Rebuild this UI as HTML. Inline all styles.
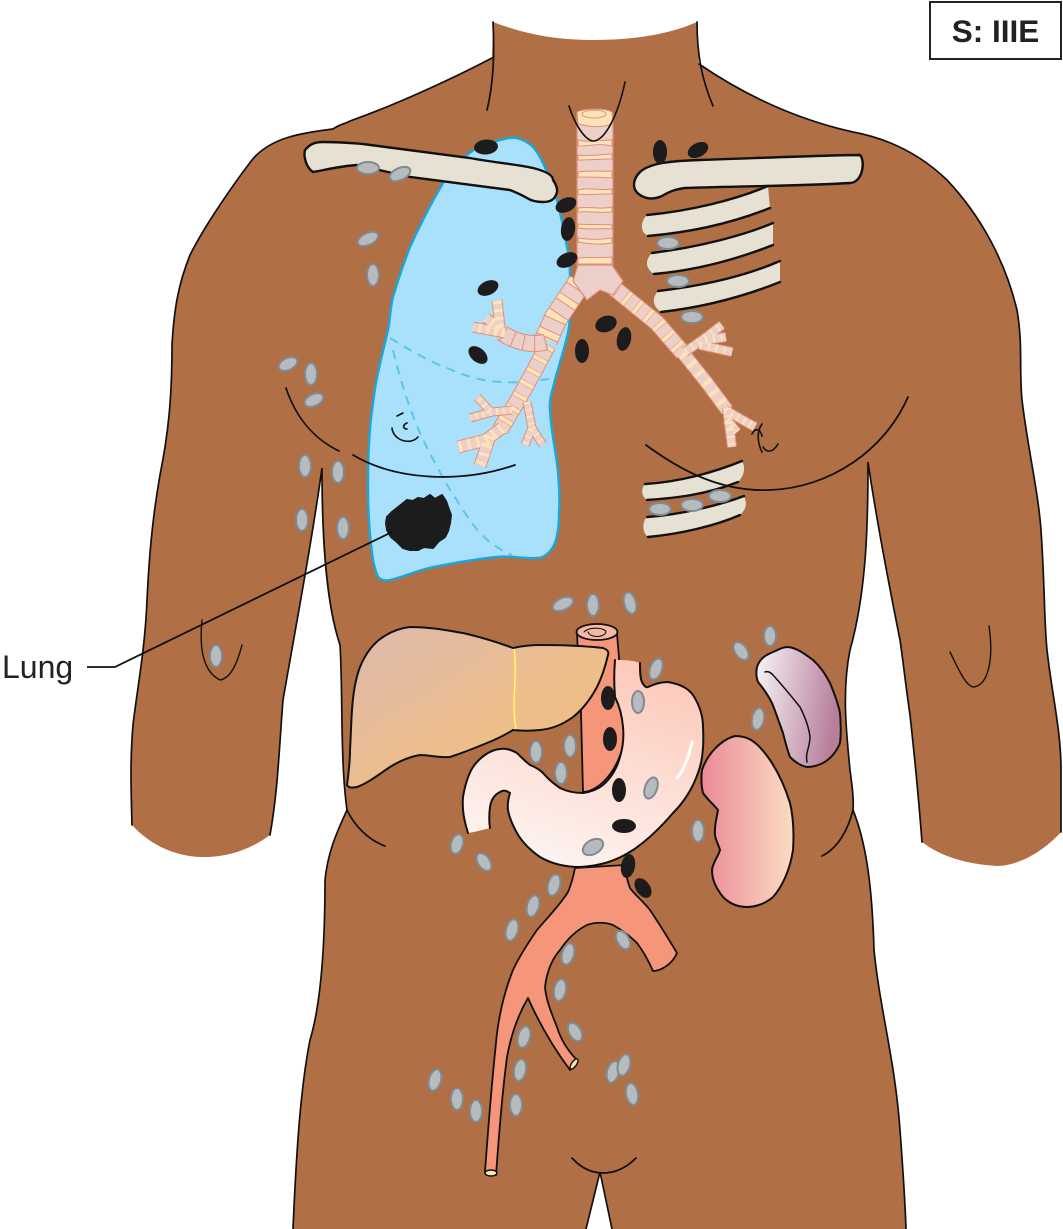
<!DOCTYPE html>
<html><head><meta charset="utf-8"><style>
html,body{margin:0;padding:0;background:#fff}svg{display:block}
.g{fill:#b7bbbe;stroke:#7f8b92;stroke-width:2}
.k{fill:#1c1c1c}
.l{fill:none;stroke:#111;stroke-width:1.8;stroke-linecap:round}
.bf{fill:#e6e1d2;stroke:none}
.bs{fill:none;stroke:#111;stroke-width:2.4;stroke-linecap:round}
.a{fill:none;stroke-linejoin:round;stroke-linecap:butt}
.o{stroke:#e08e7c}.p{stroke:#eccfc8}.c{stroke:#fde4b8}.r{stroke:#e08e7c}
.band{fill:#fde4b8;stroke:#e08e7c;stroke-width:1}
</style></head><body>
<svg width="1063" height="1229" viewBox="0 0 1063 1229" xmlns="http://www.w3.org/2000/svg">
<defs>
<linearGradient id="liv" x1="0" y1="0" x2="1" y2="1"><stop offset="0" stop-color="#dcb9ae"/><stop offset=".55" stop-color="#edbd8c"/><stop offset="1" stop-color="#f2c184"/></linearGradient>
<linearGradient id="sto" x1="0.7" y1="0" x2="0.3" y2="1"><stop offset="0" stop-color="#fdc9ba"/><stop offset="1" stop-color="#fdf5f2"/></linearGradient>
<linearGradient id="kid" x1="0" y1="0" x2="1" y2="0"><stop offset="0" stop-color="#ea8a98"/><stop offset="1" stop-color="#fcdcc2"/></linearGradient>
<linearGradient id="spl" x1="0" y1="0" x2="1" y2="0.2"><stop offset="0" stop-color="#f8f5f7"/><stop offset="1" stop-color="#b87f9c"/></linearGradient>
</defs>
<rect width="1063" height="1229" fill="#fff"/>
<!-- body -->
<path fill="#b06f44" d="M493 22C530 36 560 40 595 40C635 40 670 34 697 22L699 64C740 92 790 118 853 132C885 138 918 152 947 180C980 215 1005 260 1017 310C1023 345 1019 370 1022 400C1028 450 1038 490 1041 530C1045 590 1044 620 1047 650C1052 695 1061 730 1061 770L1061 832C1040 855 1015 866 997 866C965 864 940 856 922 842C918 790 915 760 910 715C905 680 903 660 900 640C888 580 875 510 868 462C868 520 867 590 850 650C842 690 846 730 850 770C852 785 854 800 853 810C865 840 872 880 874 950C880 1010 895 1060 900 1130C903 1170 905 1200 906 1229L612 1229L600 1172L586 1229L293 1229C296 1160 300 1090 310 1040C322 1000 325 940 325 880C328 850 338 830 347 810C340 760 343 690 340 645C325 600 322 530 322 468C312 540 297 620 283 700C279 750 278 790 270 835C250 850 225 858 200 857C175 856 150 845 132 825C131 790 130 760 133 725C137 690 145 650 147 600C149 560 152 520 160 475C168 435 172 400 172 345C174 310 178 285 190 255C205 225 235 182 252 160C270 138 300 133 333 129C340 124 345 124 350 121C395 105 450 80 492 58Z"/>
<g class="l" style="stroke-width:1.7">
<path d="M493 22C495 60 492 90 487 110"/><path d="M697 22C697 55 702 80 713 106"/>
<path d="M492 58C450 80 395 105 350 121C345 124 340 124 333 129C300 133 270 138 252 160C235 182 205 225 190 255C178 285 174 310 172 345C172 400 168 435 160 475C152 520 149 560 147 600C145 650 137 690 133 725C130 760 131 790 132 825"/>
<path d="M699 64C740 92 790 118 853 132C885 138 918 152 947 180C980 215 1005 260 1017 310C1023 345 1019 370 1022 400C1028 450 1038 490 1041 530C1045 590 1044 620 1047 650C1052 695 1061 730 1061 770L1061 832"/>
<path d="M922 842C918 790 915 760 910 715C905 680 903 660 900 640C888 580 875 510 868 462C868 520 867 590 850 650C842 690 846 730 850 770C852 785 854 800 853 810C865 840 872 880 874 950C880 1010 895 1060 900 1130C903 1170 905 1200 906 1229"/>
<path d="M270 835C278 790 279 750 283 700C297 620 312 540 322 468C322 530 325 600 340 645C343 690 340 760 347 810C338 830 328 850 325 880C325 940 322 1000 310 1040C300 1090 296 1160 293 1229"/>
<path d="M586 1229L600 1172L612 1229"/>
<path d="M572 1158C590 1178 616 1178 636 1158"/>
<path d="M202 620C199 650 204 672 220 680C232 678 238 660 242 645" style="stroke-width:1.4"/>
<path d="M950 652C958 668 965 685 973 687C988 686 994 660 989 626" style="stroke-width:1.4"/>
<path d="M347 810C354 825 368 840 385 846"/><path d="M853 810C848 830 838 848 822 856"/>
<path d="M286 388C295 415 312 438 339 451"/>
</g>
<!-- lung -->
<path fill="#a9e0fb" stroke="#1ba6dc" stroke-width="2.4" d="M517 138C530 142 535 148 540 157C548 172 552 185 557 200C562 220 565 235 567 247C570 262 570 270 570 277C571 300 571 318 568 333C564 350 559 365 555 380C552 392 549 400 550 410C551 430 555 448 557 463C559 480 560 498 559 513C559 530 557 540 553 547C548 555 543 558 537 558C520 559 510 555 497 557C475 559 455 563 433 567C415 571 403 577 390 580C384 581 381 580 378 577C375 570 373 562 372 553C369 530 368 510 368 487C368 455 369 430 373 403C376 375 385 345 389 325C390 315 391 305 393 297C398 280 403 265 410 247C420 225 430 205 443 183C450 172 458 163 467 155C475 148 482 146 490 143C500 140 508 137 517 138Z"/>
<path d="M390 338C410 350 430 362 447 368C465 376 485 382 503 382C520 383 540 381 553 378" fill="none" stroke="#5cc6e8" stroke-width="2" stroke-dasharray="9 7"/>
<path d="M393 350C400 380 410 410 420 433C430 455 440 472 450 490C460 505 470 522 480 533C490 543 500 550 512 555" fill="none" stroke="#5cc6e8" stroke-width="2" stroke-dasharray="9 7"/>
<path d="M353 455C395 480 460 484 515 465" class="l"/>
<path class="l" style="stroke-width:1.6" d="M392 428C393 440 410 446 418 437M397 416L403 413M407 423C402 425 403 429 407 429"/>
<!-- tumour -->
<path class="k" stroke="#1c1c1c" stroke-width="2" stroke-linejoin="round" d="M402 504L407 500L413 501L418 498L424 499L430 495L435 499L442 495L446 501L448 507L451 515L450 523L448 531L445 537L439 541L433 548L424 547L418 550L410 550L403 548L397 542L391 537L387 530L386 523L387 517L392 512L397 508Z"/>
<path d="M392 532L115 667H87" fill="none" stroke="#111" stroke-width="1.8"/>
<text x="2" y="678" font-family="'Liberation Sans',sans-serif" font-size="32" fill="#222">Lung</text>
<!-- trachea -->
<rect x="577" y="112" width="36" height="156" fill="#eccfc8" stroke="#e08e7c" stroke-width="1.2" rx="3"/>
<path class="band" d="M577 112C585 108 605 108 612 112L613 124C600 128 590 127 578 124Z"/>
<ellipse cx="594" cy="114" rx="12" ry="4" fill="#fde4b8" stroke="#e08e7c" stroke-width="1"/>
<path class="band" d="M578 140C590 143 600 140 612 140V146C600 143 590 146 578 146Z"/>
<path class="band" d="M578 155C590 157 600 154 612 154V159C600 159 590 160 578 160Z"/>
<path class="band" d="M578 172C590 170 600 172 612 171V178C600 177 590 177 578 177Z"/>
<path class="band" d="M578 190C590 187 600 191 612 189V194C600 193 590 196 578 194Z"/>
<path class="band" d="M578 208C590 206 600 210 612 207V212C600 213 590 211 578 212Z"/>
<path class="band" d="M578 224C590 225 600 224 612 225V229C600 228 590 230 578 228Z"/>
<path class="band" d="M578 238C590 240 600 240 612 238V243C600 245 590 244 578 242Z"/>
<path class="band" d="M578 258C590 257 600 258 612 257V264C600 264 590 264 578 264Z"/>
<!-- bronchi -->
<g>
<path class="a o" stroke-width="24" d="M580 282L556 318L546 340"/><path class="a p" stroke-width="22" d="M580 282L556 318L546 340"/>
<path class="a r" stroke-width="22" stroke-dasharray="8 11" d="M580 282L556 318L546 340"/><path class="a c" stroke-width="22" stroke-dasharray="6 13" stroke-dashoffset="-1" d="M580 282L556 318L546 340"/>
<path class="a o" stroke-width="17" d="M548 345L533 373L518 400L500 430"/><path class="a p" stroke-width="15" d="M548 345L533 373L518 400L500 430"/>
<path class="a r" stroke-width="15" stroke-dasharray="5 9" d="M548 345L533 373L518 400L500 430"/><path class="a c" stroke-width="15" stroke-dasharray="4 10" stroke-dashoffset="-.5" d="M548 345L533 373L518 400L500 430"/>
<path class="a o" stroke-width="17" d="M546 342C532 346 515 342 502 333"/><path class="a p" stroke-width="15" d="M546 342C532 346 515 342 502 333"/>
<path class="a r" stroke-width="15" stroke-dasharray="1 10" d="M546 342C532 346 515 342 502 333"/>
<path class="a o" stroke-width="11" d="M505 333L473 327M500 328L486 318M500 328L497 300"/><path class="a p" stroke-width="9" d="M505 333L473 327M500 328L486 318M500 328L497 300"/>
<path class="a c" stroke-width="9" stroke-dasharray="3 5" d="M505 333L473 327M500 328L486 318M500 328L497 300"/>
<path class="a o" stroke-width="13" d="M502 428L486 440L458 447M490 436L480 466"/><path class="a p" stroke-width="11" d="M502 428L486 440L458 447M490 436L480 466"/>
<path class="a c" stroke-width="11" stroke-dasharray="3 6" d="M502 428L486 440L458 447M490 436L480 466"/>
<path class="a o" stroke-width="9" d="M512 410L492 412L470 418M490 411L477 397M527 402L532 428L525 445M532 428L543 445"/><path class="a p" stroke-width="7" d="M512 410L492 412L470 418M490 411L477 397M527 402L532 428L525 445M532 428L543 445"/>
<path class="a c" stroke-width="7" stroke-dasharray="2 5" d="M512 410L492 412L470 418M490 411L477 397M527 402L532 428L525 445M532 428L543 445"/>
<path class="a o" stroke-width="17" d="M614 288L657 323L683 353"/><path class="a p" stroke-width="15" d="M614 288L657 323L683 353"/>
<path class="a r" stroke-width="15" stroke-dasharray="5 9" d="M614 288L657 323L683 353"/><path class="a c" stroke-width="15" stroke-dasharray="4 10" stroke-dashoffset="-.5" d="M614 288L657 323L683 353"/>
<path class="a o" stroke-width="14" d="M683 353L707 383L727 410"/><path class="a p" stroke-width="12" d="M683 353L707 383L727 410"/>
<path class="a c" stroke-width="12" stroke-dasharray="4 8" d="M683 353L707 383L727 410"/>
<path class="a o" stroke-width="10" d="M727 408L732 447M725 410L755 427M727 420L737 432"/><path class="a p" stroke-width="8" d="M727 408L732 447M725 410L755 427M727 420L737 432"/>
<path class="a c" stroke-width="8" stroke-dasharray="2 5" d="M727 408L732 447M725 410L755 427M727 420L737 432"/>
<path class="a o" stroke-width="10" d="M685 352L705 338L722 325M705 340L726 337M700 345L732 352"/><path class="a p" stroke-width="8" d="M685 352L705 338L722 325M705 340L726 337M700 345L732 352"/>
<path class="a c" stroke-width="8" stroke-dasharray="2 6" d="M685 352L705 338L722 325M705 340L726 337M700 345L732 352"/>
</g>
<path fill="#eccfc8" stroke="#e08e7c" stroke-width="1.2" d="M578 265L612 265L623 281L613 295L600 290L587 300L573 281Z"/>
<path class="l" style="stroke-width:1.6" d="M569 106C575 125 585 140 593 141C605 141 618 115 625 82"/>
<!-- bones -->
<path class="bf" d="M305 150C310 144 315 142 323 142C340 142 350 143 363 144L470 158C490 162 515 164 533 168C545 171 553 175 553 180C558 187 557 192 557 192C555 200 550 202 543 202C535 202 530 200 527 198C520 194 515 192 510 190L410 177L357 165C340 166 325 170 313 172C307 168 303 158 305 150Z"/>
<path class="bs" d="M313 172C307 168 303 158 305 150C310 144 315 142 323 142C340 142 350 143 363 144L470 158C490 162 515 164 533 168C545 171 553 175 553 180C558 187 557 192 557 192C555 200 550 202 543 202C535 202 530 200 527 198C520 194 515 192 510 190L410 177L357 165C340 166 325 170 313 172"/>
<path class="bf" d="M860 155C830 155 760 158 700 160C670 161 650 163 640 172C632 180 632 190 640 195C648 200 655 199 662 196C672 190 678 189 685 188C745 186 800 186 850 183C862 183 863 162 860 155Z"/>
<path class="bs" d="M860 155C830 155 760 158 700 160C670 161 650 163 640 172C632 180 632 190 640 195C648 200 655 199 662 196C672 190 678 189 685 188C745 186 800 186 850 183C862 183 866 162 860 155Z"/>
<path class="bf" d="M647 215C690 211 735 200 768 186L770 208C735 222 695 232 648 236C640 232 640 222 647 215Z"/>
<path class="bs" d="M647 215C690 211 735 200 768 186M648 236C695 232 735 222 770 208"/>
<path class="bf" d="M652 253C700 247 745 235 773 223L773 245C740 258 700 270 654 274C645 268 645 260 652 253Z"/>
<path class="bs" d="M652 253C700 247 745 235 773 223M654 274C700 270 740 258 773 245"/>
<path class="bf" d="M658 291C710 285 750 274 780 261L780 282C745 296 705 307 661 312C652 306 652 298 658 291Z"/>
<path class="bs" d="M658 291C710 285 750 274 780 261M661 312C705 307 745 296 780 282"/>
<path class="bf" d="M645 484C680 482 715 472 742 461C746 468 744 476 738 482C705 495 675 498 647 500C641 496 641 489 645 484Z"/>
<path class="bs" d="M645 484C680 482 715 472 742 461M738 482C705 495 675 498 647 500"/>
<path class="bf" d="M647 517C680 515 720 505 744 496C748 505 745 510 740 515C715 526 680 534 648 537C642 532 642 522 647 517Z"/>
<path class="bs" d="M647 517C680 515 720 505 744 496M740 515C715 526 680 534 648 537"/>
<path class="l" d="M646 445C680 470 720 492 770 490C830 488 885 450 908 397"/>
<path class="l" style="stroke-width:1.6" d="M762 424C756 432 758 444 762 452M778 444C772 454 766 452 763 447M752 434C755 428 760 428 762 436"/>
<!-- aorta upper -->
<path fill="#f5957a" stroke="#111" stroke-width="1.8" d="M577 634L581 713L583 792C600 792 625 765 625 727L617 634Z"/>
<ellipse cx="597" cy="632" rx="20.5" ry="8" fill="#f5b9a6" stroke="#111" stroke-width="1.8"/>
<path d="M584 632C590 626 606 628 606 632C604 638 590 638 588 632" class="l" style="stroke-width:1.1"/>
<!-- liver -->
<path fill="url(#liv)" stroke="#111" stroke-width="2" d="M347 785C349 770 350 760 350 750C351 735 351 722 352 710C353 695 355 680 360 667C366 652 375 642 383 637C392 631 400 628 410 627C430 627 445 630 463 633C480 637 497 642 513 648C522 646 530 645 540 645C565 645 585 646 603 648C608 650 609 652 608 655C605 668 602 677 597 687C590 700 582 710 573 717C562 725 552 729 540 730C530 731 522 731 513 730C505 735 497 739 487 743C475 748 462 753 450 757C440 758 430 755 420 755C408 757 398 762 390 767C378 775 368 783 357 787C352 788 349 788 347 785Z"/>
<path d="M514 649C518 675 511 700 516 729" stroke="#f7c95c" stroke-width="4" fill="none"/>
<path d="M514 649C518 675 511 700 516 729" stroke="#fff1c4" stroke-width="1.2" fill="none"/>
<!-- stomach -->
<path fill="url(#sto)" d="M615 660C625 660 632 660 640 663C640 670 640 678 642 682C644 686 646 688 648 687C655 684 660 682 668 682C680 684 688 688 693 695C700 706 703 716 703 727C704 745 703 760 698 773C692 790 684 802 673 813C660 828 648 840 633 850C615 862 598 866 580 867C565 867 552 864 540 857C530 850 522 842 517 833C511 822 509 816 508 810C507 802 509 797 510 793C506 790 503 790 500 792C494 795 491 800 490 807C489 815 489 822 490 828C482 830 475 832 468 833C464 820 462 810 463 797C465 785 468 775 473 767C480 757 490 750 500 749C507 748 512 750 517 753C522 758 526 762 530 765C535 767 539 769 543 773C549 780 554 784 560 788C568 792 576 793 583 793C590 792 597 790 603 785C611 778 617 768 620 757C623 747 624 737 623 727C622 715 619 705 615 697C614 685 614 672 615 660Z"/>
<path fill="none" stroke="#111" stroke-width="2" stroke-linecap="round" d="M640 663C640 670 640 678 642 682C644 686 646 688 648 687C655 684 660 682 668 682C680 684 688 688 693 695C700 706 703 716 703 727C704 745 703 760 698 773C692 790 684 802 673 813C660 828 648 840 633 850C615 862 598 866 580 867C565 867 552 864 540 857C530 850 522 842 517 833C511 822 509 816 508 810C507 802 509 797 510 793C506 790 503 790 500 792C494 795 491 800 490 807C489 815 489 822 490 828M468 833C464 820 462 810 463 797C465 785 468 775 473 767C480 757 490 750 500 749C507 748 512 750 517 753C522 758 526 762 530 765C535 767 539 769 543 773C549 780 554 784 560 788C568 792 576 793 583 793C590 792 597 790 603 785C611 778 617 768 620 757C623 747 624 737 623 727C622 715 619 705 615 697C614 685 614 672 615 660"/>
<path d="M677 778C684 770 689 755 692 742" stroke="#fff" stroke-width="3" fill="none" stroke-linecap="round"/>
<!-- kidney -->
<path fill="url(#kid)" stroke="#111" stroke-width="2" d="M735 736C745 736 755 738 770 760C780 775 786 790 790 803C794 820 794 835 793 850C790 870 782 887 773 897C765 904 755 907 747 907C737 907 729 903 723 897C716 888 712 880 712 870C713 862 718 857 720 850C718 843 714 838 715 830C715 822 717 817 718 810C712 803 708 800 703 793C701 785 701 778 702 770C707 755 720 740 735 736Z"/>
<!-- spleen -->
<path fill="url(#spl)" stroke="#111" stroke-width="2" d="M757 667C760 658 766 655 773 652C780 649 783 647 788 647C797 648 805 654 813 660C822 668 826 676 830 683C835 695 838 703 840 713C841 725 841 735 840 743C836 753 830 759 823 763C817 766 812 767 807 767C801 766 795 762 790 757C787 749 785 741 783 733C779 722 776 713 772 703C768 695 763 688 758 682C756 677 756 672 757 667Z"/>
<path d="M765 672C768 671 770 672 773 675C782 685 792 697 800 707C805 717 809 727 810 737C810 747 805 753 807 762" class="l" style="stroke-width:1.5"/>
<!-- aorta lower -->
<path fill="#f5957a" stroke="#111" stroke-width="1.8" stroke-linejoin="round" d="M575 868C573 878 571 885 568 892C560 905 548 917 537 930C528 943 520 955 513 970C505 990 500 1010 497 1033C492 1080 488 1130 485 1172L496 1175C499 1135 502 1095 507 1057C511 1035 518 1015 528 998C540 1025 555 1050 570 1070L577 1060C567 1050 561 1040 557 1027C551 1012 546 1000 545 987C547 970 553 958 560 950C568 938 577 930 587 925C595 922 605 922 613 925C622 930 630 936 637 943C644 952 649 962 653 971C660 971 672 965 677 953C668 938 660 925 650 910C642 900 635 895 630 888C627 880 626 875 625 865Z"/>
<ellipse cx="491" cy="1173" rx="6" ry="3" fill="#fde4b8" stroke="#111" stroke-width="1.5"/>
<ellipse cx="574" cy="1064" rx="2.5" ry="6" transform="rotate(35 574 1064)" fill="#fde4b8" stroke="#111" stroke-width="1.4"/>
<!-- black nodes -->
<g class="k">
<ellipse cx="486" cy="147" rx="12" ry="7.5" transform="rotate(-5 486 147)"/>
<ellipse cx="660" cy="152" rx="7" ry="12"/>
<ellipse cx="698" cy="150" rx="11" ry="7" transform="rotate(-28 698 150)"/>
<ellipse cx="566" cy="205" rx="11" ry="7" transform="rotate(-25 566 205)"/>
<ellipse cx="568" cy="229" rx="7" ry="12" transform="rotate(8 568 229)"/>
<ellipse cx="567" cy="260" rx="11" ry="7" transform="rotate(-25 567 260)"/>
<ellipse cx="488" cy="288" rx="11" ry="7" transform="rotate(-25 488 288)"/>
<ellipse cx="478" cy="355" rx="11" ry="7" transform="rotate(40 478 355)"/>
<ellipse cx="606" cy="324" rx="11" ry="8" transform="rotate(-20 606 324)"/>
<ellipse cx="624" cy="339" rx="7" ry="12" transform="rotate(12 624 339)"/>
<ellipse cx="582" cy="351" rx="7" ry="12"/>
<ellipse cx="608" cy="698" rx="7" ry="12"/>
<ellipse cx="610" cy="739" rx="7" ry="12"/>
<ellipse cx="619" cy="790" rx="7" ry="12"/>
<ellipse cx="624" cy="826" rx="12" ry="7"/>
<ellipse cx="628" cy="866" rx="7" ry="12" transform="rotate(10 628 866)"/>
<ellipse cx="643" cy="888" rx="7" ry="11" transform="rotate(-35 643 888)"/>
</g>
<!-- gray nodes -->
<g class="g">
<ellipse cx="368" cy="168" rx="11" ry="6"/>
<ellipse cx="400" cy="174" rx="11" ry="6" transform="rotate(-25 400 174)"/>
<ellipse cx="368" cy="239" rx="11" ry="6" transform="rotate(-25 368 239)"/>
<ellipse cx="373" cy="275" rx="6" ry="11"/>
<ellipse cx="668" cy="243" rx="11" ry="6"/>
<ellipse cx="678" cy="281" rx="11" ry="6"/>
<ellipse cx="692" cy="317" rx="11" ry="6"/>
<ellipse cx="288" cy="364" rx="10" ry="6" transform="rotate(-25 288 364)"/>
<ellipse cx="311" cy="374" rx="6" ry="11"/>
<ellipse cx="314" cy="400" rx="10" ry="6" transform="rotate(-25 314 400)"/>
<ellipse cx="305" cy="466" rx="6" ry="11"/>
<ellipse cx="338" cy="472" rx="6" ry="11"/>
<ellipse cx="302" cy="520" rx="6" ry="11"/>
<ellipse cx="343" cy="528" rx="6" ry="11"/>
<ellipse cx="720" cy="496" rx="11" ry="6"/>
<ellipse cx="692" cy="505" rx="11" ry="6"/>
<ellipse cx="660" cy="509" rx="11" ry="6"/>
<ellipse cx="216" cy="656" rx="6" ry="11"/>
<ellipse cx="563" cy="604" rx="11" ry="6" transform="rotate(-25 563 604)"/>
<ellipse cx="593" cy="605" rx="6" ry="11"/>
<ellipse cx="630" cy="603" rx="6" ry="11" transform="rotate(-15 630 603)"/>
<ellipse cx="741" cy="651" rx="6" ry="10" transform="rotate(-35 741 651)"/>
<ellipse cx="770" cy="636" rx="6" ry="10"/>
<ellipse cx="656" cy="669" rx="6" ry="11" transform="rotate(20 656 669)"/>
<ellipse cx="638" cy="702" rx="6" ry="11"/>
<ellipse cx="758" cy="719" rx="6" ry="11" transform="rotate(10 758 719)"/>
<ellipse cx="536" cy="752" rx="6" ry="11"/>
<ellipse cx="570" cy="746" rx="6" ry="11"/>
<ellipse cx="561" cy="773" rx="6" ry="11"/>
<ellipse cx="651" cy="788" rx="6" ry="11" transform="rotate(20 651 788)"/>
<ellipse cx="698" cy="831" rx="6" ry="11"/>
<ellipse cx="593" cy="847" rx="11" ry="7" transform="rotate(-30 593 847)"/>
<ellipse cx="457" cy="844" rx="6" ry="10" transform="rotate(15 457 844)"/>
<ellipse cx="484" cy="862" rx="6" ry="10" transform="rotate(-35 484 862)"/>
<ellipse cx="554" cy="885" rx="6" ry="11" transform="rotate(15 554 885)"/>
<ellipse cx="533" cy="906" rx="6" ry="11" transform="rotate(15 533 906)"/>
<ellipse cx="512" cy="930" rx="6" ry="11" transform="rotate(15 512 930)"/>
<ellipse cx="623" cy="940" rx="6" ry="10" transform="rotate(-30 623 940)"/>
<ellipse cx="568" cy="954" rx="6" ry="11" transform="rotate(15 568 954)"/>
<ellipse cx="560" cy="990" rx="6" ry="11" transform="rotate(10 560 990)"/>
<ellipse cx="575" cy="1032" rx="6" ry="10" transform="rotate(-30 575 1032)"/>
<ellipse cx="524" cy="1037" rx="6" ry="11" transform="rotate(15 524 1037)"/>
<ellipse cx="520" cy="1070" rx="6" ry="11" transform="rotate(10 520 1070)"/>
<ellipse cx="516" cy="1105" rx="6" ry="11"/>
<ellipse cx="435" cy="1080" rx="6" ry="11" transform="rotate(15 435 1080)"/>
<ellipse cx="457" cy="1099" rx="6" ry="11"/>
<ellipse cx="476" cy="1111" rx="6" ry="11"/>
<ellipse cx="613" cy="1072" rx="6" ry="11" transform="rotate(15 613 1072)"/>
<ellipse cx="624" cy="1065" rx="6" ry="11" transform="rotate(15 624 1065)"/>
<ellipse cx="632" cy="1094" rx="6" ry="11" transform="rotate(-10 632 1094)"/>
</g>
<!-- stage box -->
<rect x="930" y="2" width="131" height="57" fill="#fff" stroke="#222" stroke-width="2"/>
<text x="995.5" y="42" text-anchor="middle" font-family="'Liberation Sans',sans-serif" font-size="31.5" font-weight="bold" fill="#222">S: IIIE</text>
</svg>
</body></html>
